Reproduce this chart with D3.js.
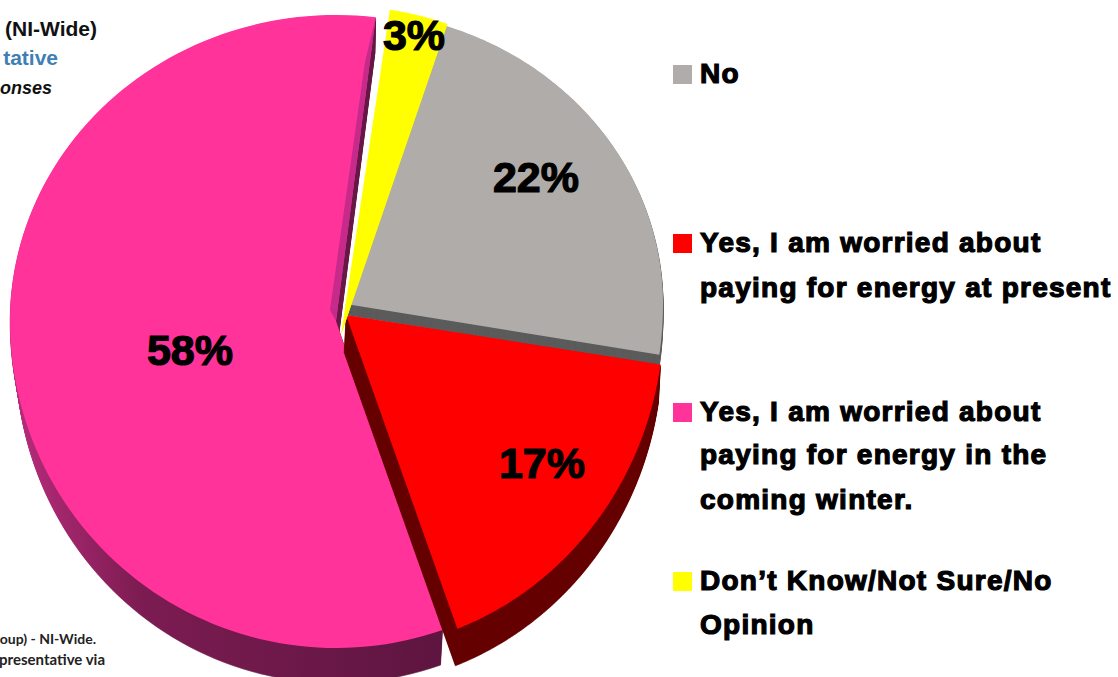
<!DOCTYPE html>
<html>
<head>
<meta charset="utf-8">
<script src="https://cdn.jsdelivr.net/npm/d3@7/dist/d3.min.js"></script>
<style>
    html, body { margin: 0; padding: 0; background: #fff; overflow: hidden; }
    text { font-family: "Liberation Sans", Arial, sans-serif; font-weight: bold; }
</style>
</head>
<body>
<script>
// values, clockwise from the grey slice
var categories = ["No", "Yes at present", "Yes coming winter", "Don't Know"]
var values = [22, 17, 58, 3]
var colors = ["#b0acaa", "#ff0000", "#ff3399", "#ffff00"]
var legendLines = [
    ["No"],
    ["Yes, I am worried about", "paying for energy at present"],
    ["Yes, I am worried about", "paying for energy in the", "coming winter."],
    ["Don\u2019t Know/Not Sure/No", "Opinion"]
]

var w = 1118
var h = 677
var toRad = Math.PI / 180

// each slice is exploded and sits in a fake perspective, so it has its own ellipse
var geom = [
    {cx: 346, cy: 304, rx: 317, top: 293, bottom: 335, dx: 0, dy: 11, shrink: 0, trim: [-0.6, 0.5], wall: "#5c5c5c"},
    {cx: 346, cy: 315, rx: 318, top: 293, bottom: 335, dx: -2, dy: 37, shrink: 0, trim: [0.3, 0.1], wall: "#660000"},
    {cx: 336, cy: 321, rx: 326, top: 306, bottom: 327, dx: 0, dy: 35, shrink: 6, trim: [1.5, -1.2], wall: "url(#pinkWall)"},
    {cx: 341, cy: 335, rx: 327, top: 329, bottom: 329, dx: 0, dy: 0, shrink: 0, trim: [0.4, 0], wall: "#e6e600"}
]

var svg = d3.select("body").append("svg")
    .attr("width", w)
    .attr("height", h)

var grad = svg.append("defs").append("linearGradient")
    .attr("id", "pinkWall")
    .attr("gradientUnits", "userSpaceOnUse")
    .attr("x1", 10).attr("x2", 440).attr("y1", 0).attr("y2", 0)
grad.append("stop").attr("offset", "0").attr("stop-color", "#b82c7c")
grad.append("stop").attr("offset", "0.3").attr("stop-color", "#7c1c52")
grad.append("stop").attr("offset", "1").attr("stop-color", "#5e1540")

var pie = d3.pie().sort(null).value(function (d) { return d })
    .startAngle(19 * toRad).endAngle(379 * toRad)
var slices = pie(values)

// point on the slice's ellipse, a in radians clockwise from 12 o'clock
function rim(g, a, k) {
    var c = Math.cos(a)
    return [g.cx + k * g.rx * Math.sin(a), g.cy - k * c * (c > 0 ? g.top : g.bottom)]
}

function outline(i) {
    var g = geom[i]
    var a0 = slices[i].startAngle + g.trim[0] * toRad
    var a1 = slices[i].endAngle + g.trim[1] * toRad
    var pts = [[g.cx, g.cy]]
    d3.range(0, 121).forEach(function (t) {
        pts.push(rim(g, a0 + (a1 - a0) * t / 120, 1))
    })
    return pts
}

var line = d3.line()

function drawWall(i) {
    var g = geom[i]
    var steps = Math.max(Math.abs(g.dy), 1)
    var pts = outline(i)
    d3.range(steps, 0, -1).forEach(function (s) {
        var t = s / steps
        svg.append("path")
            .attr("d", line(pts) + "Z")
            .attr("transform", "translate(" + (g.cx + g.dx * t) + "," + (g.cy + g.dy * t) + ")"
                + " scale(" + (1 - g.shrink * t / g.rx) + ",1)"
                + " translate(" + (-g.cx) + "," + (-g.cy) + ")")
            .attr("fill", g.wall)
            .attr("stroke", g.wall)
            .attr("stroke-width", 0.6)
    })
}

function drawTop(i) {
    svg.append("path")
        .attr("d", line(outline(i)) + "Z")
        .attr("fill", colors[i])
}

// pink goes first, red and its wall lie over it
drawWall(2)
drawTop(2)

// cut face of the pink slice
var pg = geom[2]
var pEnd = slices[2].endAngle + pg.trim[1] * toRad
svg.append("path")
    .attr("d", line([
        rim(pg, pEnd, 1),
        rim(pg, pEnd - 1.0 * toRad, 0.85),
        [pg.cx - 6, pg.cy - 11],
        [pg.cx, pg.cy]
    ]) + "Z")
    .attr("fill", "#c62a8a")

drawWall(0)
drawTop(0)
drawWall(1)
drawTop(1)

// cut face of the yellow slice, fills the gap up to the grey one
var yg = geom[3]
var gg = geom[0]
svg.append("path")
    .attr("d", line([
        rim(yg, slices[3].endAngle, 1),
        rim(gg, slices[0].startAngle + gg.trim[0] * toRad, 1),
        [gg.cx, gg.cy],
        [gg.cx, gg.cy + gg.dy],
        [yg.cx, yg.cy]
    ]) + "Z")
    .attr("fill", geom[3].wall)
drawTop(3)

// percent labels
var labelPos = [[536, 192], [542, 478], [190, 365], [414, 50]]
svg.selectAll("text.pct").data(values).enter()
    .append("text")
    .attr("class", "pct")
    .attr("x", function (d, i) { return labelPos[i][0] })
    .attr("y", function (d, i) { return labelPos[i][1] })
    .attr("text-anchor", "middle")
    .attr("font-size", 43)
    .attr("stroke", "#000")
    .attr("stroke-width", 1.2)
    .text(function (d) { return d + "%" })

// legend
var legendY = [65, 234, 403, 572]
var legendBase = [[83], [252, 297], [421, 464, 509], [590, 634]]
categories.forEach(function (c, i) {
    svg.append("rect")
        .attr("x", 673)
        .attr("y", legendY[i])
        .attr("width", 19)
        .attr("height", 19)
        .attr("fill", colors[i])
    legendLines[i].forEach(function (t, j) {
        svg.append("text")
            .attr("x", 700)
            .attr("y", legendBase[i][j])
            .attr("font-size", 28)
            .attr("letter-spacing", 1.25)
            .attr("stroke", "#000")
            .attr("stroke-width", 1.2)
            .text(t)
    })
})

// what is left of the header and the footnote after the crop
svg.append("text").attr("x", 97).attr("y", 36).attr("text-anchor", "end")
    .attr("font-size", 21).attr("fill", "#111").text("(NI-Wide)")
svg.append("text").attr("x", 58).attr("y", 65).attr("text-anchor", "end")
    .attr("font-size", 21).attr("fill", "#3f7fb5").text("tative")
svg.append("text").attr("x", 52).attr("y", 94).attr("text-anchor", "end")
    .attr("font-size", 18).attr("font-style", "italic").attr("fill", "#111").text("onses")
svg.append("text").attr("x", 96).attr("y", 644).attr("text-anchor", "end")
    .attr("font-size", 14).attr("fill", "#222")
    .style("font-family", "Lato, sans-serif").text("oup) - NI-Wide.")
svg.append("text").attr("x", 105).attr("y", 665).attr("text-anchor", "end")
    .attr("font-size", 15).attr("fill", "#222")
    .style("font-family", "Lato, sans-serif").text("presentative via")
</script>
</body>
</html>
